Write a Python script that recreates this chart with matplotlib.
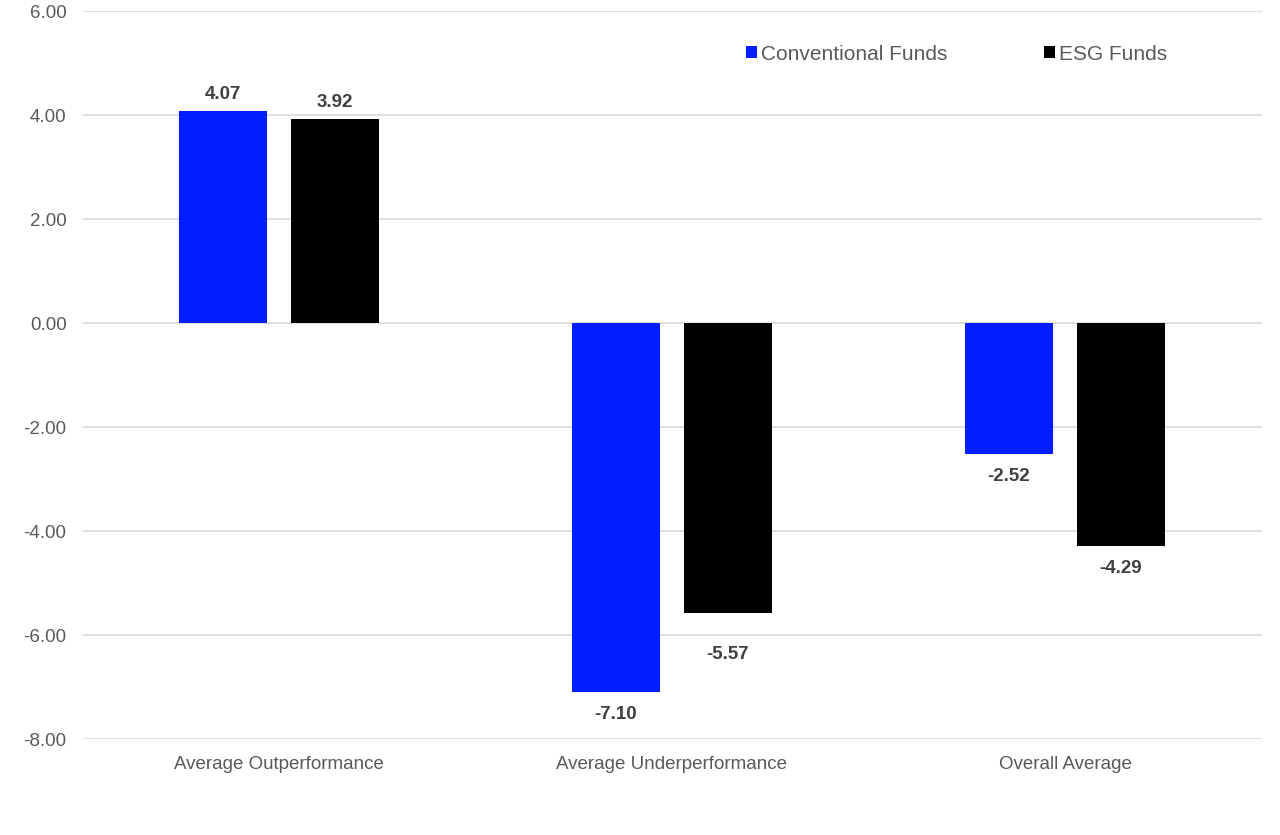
import numpy as np
import matplotlib.pyplot as plt
from matplotlib.patches import Patch

plt.rcParams['font.family'] = ['Liberation Sans', 'DejaVu Sans']

# --- data ---
categories = ["Average Outperformance", "Average Underperformance", "Overall Average"]
conventional = [4.07, -7.10, -2.52]
esg = [3.92, -5.57, -4.29]
series_names = ["Conventional Funds", "ESG Funds"]

BLUE = "#001EFF"
BLACK = "#000000"
GRAY_TXT = "#595959"
LABEL_TXT = "#404040"
GRID = "#D9D9D9"

fig = plt.figure(figsize=(12.8, 8.35), dpi=100)
ax = fig.add_axes([82.5 / 1280, 1 - 739 / 835, (1261.5 - 82.5) / 1280, (739 - 11) / 835])

x = np.arange(len(categories))
w = 0.224
off = 0.1425
b1 = ax.bar(x - off, conventional, w, color=BLUE, zorder=3)
b2 = ax.bar(x + off, esg, w, color=BLACK, zorder=3)

# value labels (the ESG underperformance label sits lower, as in the source)
for si, (bars, vals) in enumerate([(b1, conventional), (b2, esg)]):
    for ci, (rect, v) in enumerate(zip(bars, vals)):
        cx = rect.get_x() + rect.get_width() / 2
        if v >= 0:
            ax.annotate(f"{v:.2f}", (cx, v), xytext=(0, 6), textcoords="offset points",
                        ha="center", va="bottom", fontsize=13.5, fontweight="bold", color=LABEL_TXT)
        else:
            dy = -24 if (si == 1 and ci == 1) else -10
            ax.annotate(f"{v:.2f}", (cx, v), xytext=(0, dy), textcoords="offset points",
                        ha="center", va="top", fontsize=13.5, fontweight="bold", color=LABEL_TXT)

ax.set_xlim(-0.5, len(categories) - 0.5)
ax.set_ylim(-8, 6)
ax.set_yticks(np.arange(-8, 6.01, 2))
ax.set_yticklabels([f"{t:.2f}" for t in np.arange(-8, 6.01, 2)])
ax.set_xticks(x)
ax.set_xticklabels(categories)
ax.tick_params(axis="both", length=0, labelsize=13.5, labelcolor=GRAY_TXT)
ax.tick_params(axis="y", pad=11.5)
ax.tick_params(axis="x", pad=12)
ax.yaxis.grid(True, color=GRID, linewidth=1.2, zorder=0)
ax.set_axisbelow(True)
for s in ax.spines.values():
    s.set_visible(False)

handles = [Patch(facecolor=BLUE, edgecolor="none"), Patch(facecolor=BLACK, edgecolor="none")]
leg = fig.legend(handles, series_names, loc="center left", bbox_to_anchor=(727 / 1280, 1 - 54 / 835),
                 ncol=2, frameon=False, fontsize=15, handlelength=0.55, handleheight=0.55,
                 handletextpad=0.2, columnspacing=4.6, labelcolor=GRAY_TXT)

fig.savefig("out.png", dpi=100)
